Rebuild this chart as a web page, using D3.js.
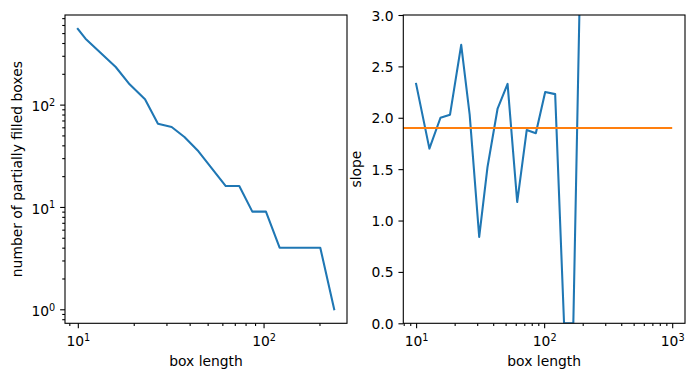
<!DOCTYPE html>
<html>
<head>
<meta charset="utf-8">
<script src="https://cdn.jsdelivr.net/npm/d3@7"></script>
<style>
  html, body { margin: 0; padding: 0; background: #fff; }
  svg { display: block; }
  text { font-family: "DejaVu Sans", sans-serif; fill: #000; }
</style>
</head>
<body>
<svg id="chart" width="694" height="381"></svg>
<script>
// ---- data ----
const boxLength = [10, 11, 16, 19, 23, 27, 32, 37.5, 44.6, 62.6, 74, 87, 103, 122, 202, 240];
const boxCount  = [548, 441, 233, 158, 113, 65, 60.5, 48.3, 35, 16, 16, 9, 9, 4, 4, 1];

const slopeLength = [10, 12.7, 15.5, 18.4, 22.5, 26.2, 31.1, 36.1, 43.3, 51.8, 61.6, 73.1, 86.1, 101.9, 121.9, 143, 169, 201];
const slopeValue  = [2.33, 1.70, 2.00, 2.03, 2.71, 2.03, 0.84, 1.52, 2.09, 2.33, 1.18, 1.88, 1.85, 2.25, 2.23, 0, 0, 4.8];

const refSlope = 1.90;     // horizontal reference (orange)
const refEnd = 1000;       // orange line runs from the left edge to this box length

const leftXTicks = [10, 100];
const leftYTicks = [1, 10, 100];
const rightXTicks = [10, 100, 1000];
const rightYTicks = [0, 0.5, 1.0, 1.5, 2.0, 2.5, 3.0];

// ---- layout ----
const svg = d3.select("#chart");
const FS = 13.89, SUP = 9.7;
const MAJ = 4.86, MIN = 2.78, PAD = 4.86;
const blue = "#1f77b4", orange = "#ff7f0e";

function logDomain(vals, margin = 0.05) {
  const lo = Math.log10(d3.min(vals)), hi = Math.log10(d3.max(vals));
  const m = (hi - lo) * margin;
  return [Math.pow(10, lo - m), Math.pow(10, hi + m)];
}
function minorTicks(domain) {
  const out = [];
  const a = Math.floor(Math.log10(domain[0])), b = Math.ceil(Math.log10(domain[1]));
  for (let e = a; e <= b; e++) for (let k = 2; k <= 9; k++) {
    const v = k * Math.pow(10, e);
    if (v >= domain[0] && v <= domain[1]) out.push(v);
  }
  return out;
}
function supLabel(textSel, v) {
  const e = Math.round(Math.log10(v));
  textSel.text(null);
  textSel.append("tspan").text("10");
  textSel.append("tspan").attr("dy", -5.5).attr("font-size", SUP).text(e);
}

function panel(opts) {
  const { x0, x1, y0, y1, id } = opts;
  const g = svg.append("g");
  const clipId = "clip" + id;
  svg.append("clipPath").attr("id", clipId).append("rect")
    .attr("x", x0).attr("y", y0).attr("width", x1 - x0).attr("height", y1 - y0);
  return { g, clipId };
}

// ===== Left panel =====
(function () {
  const x0 = 65, x1 = 347, y0 = 15, y1 = 323.3;
  const xDom = logDomain(boxLength);
  const yDom = logDomain(boxCount);
  const x = d3.scaleLog().domain(xDom).range([x0, x1]);
  const y = d3.scaleLog().domain(yDom).range([y1, y0]);
  const { g, clipId } = panel({ x0, x1, y0, y1, id: "L" });

  // minor ticks
  g.append("g").attr("transform", `translate(0,${y1})`)
    .call(d3.axisBottom(x).tickValues(minorTicks(xDom)).tickSize(MIN).tickFormat(""))
    .call(s => s.select(".domain").remove());
  g.append("g").attr("transform", `translate(${x0},0)`)
    .call(d3.axisLeft(y).tickValues(minorTicks(yDom)).tickSize(MIN).tickFormat(""))
    .call(s => s.select(".domain").remove());
  // major ticks
  const xa = g.append("g").attr("transform", `translate(0,${y1})`)
    .call(d3.axisBottom(x).tickValues(leftXTicks).tickSize(MAJ).tickPadding(PAD));
  xa.select(".domain").remove();
  xa.selectAll("text").attr("font-size", FS).attr("font-family", "DejaVu Sans").attr("dy", "0.95em")
    .each(function (d) { supLabel(d3.select(this), d); });
  const ya = g.append("g").attr("transform", `translate(${x0},0)`)
    .call(d3.axisLeft(y).tickValues(leftYTicks).tickSize(MAJ).tickPadding(PAD));
  ya.select(".domain").remove();
  ya.selectAll("text").attr("font-size", FS).attr("font-family", "DejaVu Sans").attr("dy", "0.45em")
    .each(function (d) { supLabel(d3.select(this), d); });
  g.selectAll(".tick line").attr("stroke", "#000").attr("stroke-width", 1.1);

  // line
  g.append("path").attr("clip-path", `url(#${clipId})`)
    .datum(boxLength.map((v, i) => [v, boxCount[i]]))
    .attr("fill", "none").attr("stroke", blue).attr("stroke-width", 2.08)
    .attr("stroke-linejoin", "round").attr("stroke-linecap", "square")
    .attr("d", d3.line().x(d => x(d[0])).y(d => y(d[1])));

  // spines
  g.append("rect").attr("x", x0).attr("y", y0).attr("width", x1 - x0).attr("height", y1 - y0)
    .attr("fill", "none").attr("stroke", "#000").attr("stroke-width", 1.1);

  // labels
  g.append("text").attr("x", (x0 + x1) / 2).attr("y", 365.5).attr("text-anchor", "middle")
    .attr("font-size", FS).text("box length");
  g.append("text").attr("transform", `translate(21.5,${(y0 + y1) / 2}) rotate(-90)`)
    .attr("text-anchor", "middle").attr("font-size", FS).text("number of partially filled boxes");
})();

// ===== Right panel =====
(function () {
  const x0 = 403.3, x1 = 685, y0 = 15, y1 = 323.3;
  const xDom = logDomain(slopeLength.concat([refEnd]));
  const x = d3.scaleLog().domain(xDom).range([x0, x1]);
  const y = d3.scaleLinear().domain([0, 3]).range([y1, y0]);
  const { g, clipId } = panel({ x0, x1, y0, y1, id: "R" });

  g.append("g").attr("transform", `translate(0,${y1})`)
    .call(d3.axisBottom(x).tickValues(minorTicks(xDom)).tickSize(MIN).tickFormat(""))
    .call(s => s.select(".domain").remove());
  const xa = g.append("g").attr("transform", `translate(0,${y1})`)
    .call(d3.axisBottom(x).tickValues(rightXTicks).tickSize(MAJ).tickPadding(PAD));
  xa.select(".domain").remove();
  xa.selectAll("text").attr("font-size", FS).attr("font-family", "DejaVu Sans").attr("dy", "0.95em")
    .each(function (d) { supLabel(d3.select(this), d); });
  const ya = g.append("g").attr("transform", `translate(${x0},0)`)
    .call(d3.axisLeft(y).tickValues(rightYTicks).tickSize(MAJ).tickPadding(PAD).tickFormat(d3.format(".1f")));
  ya.select(".domain").remove();
  ya.selectAll("text").attr("font-size", FS).attr("font-family", "DejaVu Sans").attr("dy", "0.36em");
  g.selectAll(".tick line").attr("stroke", "#000").attr("stroke-width", 1.1);

  g.append("path").attr("clip-path", `url(#${clipId})`)
    .datum(slopeLength.map((v, i) => [v, slopeValue[i]]))
    .attr("fill", "none").attr("stroke", blue).attr("stroke-width", 2.08)
    .attr("stroke-linejoin", "round").attr("stroke-linecap", "square")
    .attr("d", d3.line().x(d => x(d[0])).y(d => y(d[1])));

  g.append("line").attr("clip-path", `url(#${clipId})`)
    .attr("x1", x0).attr("x2", x(refEnd)).attr("y1", y(refSlope)).attr("y2", y(refSlope))
    .attr("stroke", orange).attr("stroke-width", 2.08);

  g.append("rect").attr("x", x0).attr("y", y0).attr("width", x1 - x0).attr("height", y1 - y0)
    .attr("fill", "none").attr("stroke", "#000").attr("stroke-width", 1.1);

  g.append("text").attr("x", (x0 + x1) / 2).attr("y", 365.5).attr("text-anchor", "middle")
    .attr("font-size", FS).text("box length");
  g.append("text").attr("transform", `translate(360.5,${(y0 + y1) / 2}) rotate(-90)`)
    .attr("text-anchor", "middle").attr("font-size", FS).text("slope");
})();
</script>
</body>
</html>
